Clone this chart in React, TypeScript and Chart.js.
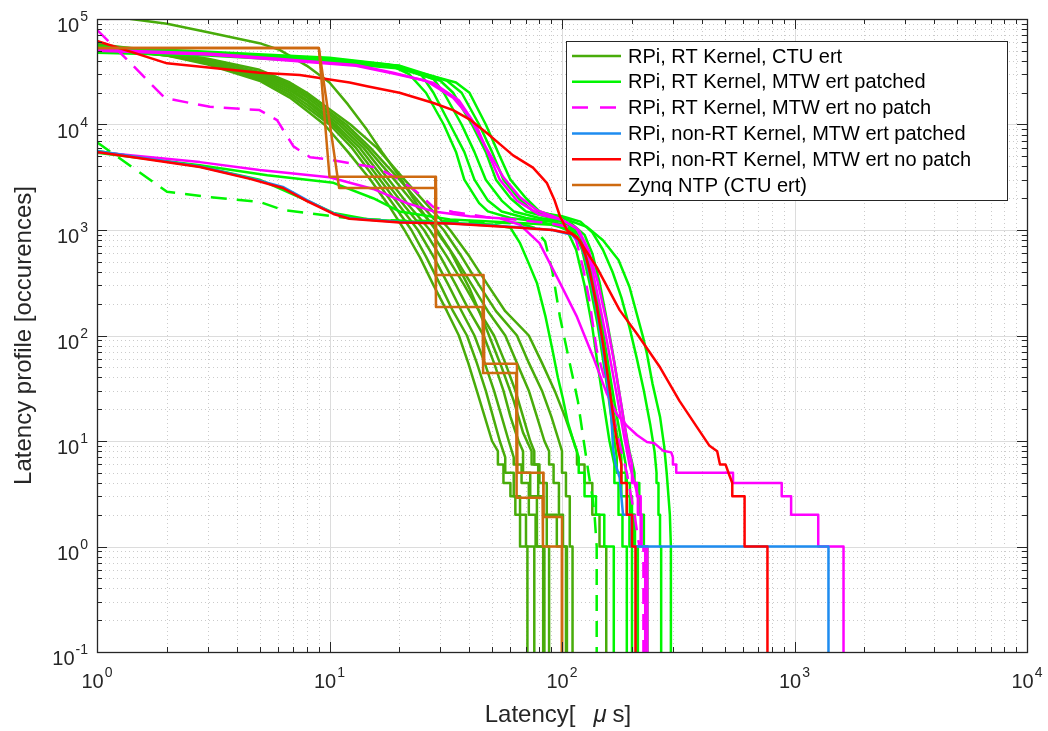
import React, { useEffect, useRef } from 'react';
import { Chart, registerables } from 'chart.js';

Chart.register(...registerables);

type Pt = [number, number];

// ---- axes ----
const xPowers = [0, 1, 2, 3, 4];
const yPowers = [-1, 0, 1, 2, 3, 4, 5];
const xTitleHead = 'Latency[';
const xTitleUnit = 'μ';
const xTitleTail = 's]';
const yTitle = 'Latency profile [occurences]';

// ---- legend ----
const legendLabels = [
  'RPi, RT Kernel, CTU ert',
  'RPi, RT Kernel, MTW ert patched',
  'RPi, RT Kernel, MTW ert no patch',
  'RPi, non-RT Kernel, MTW ert patched',
  'RPi, non-RT Kernel, MTW ert no patch',
  'Zynq NTP (CTU ert)',
];
const groupColors = ['rgb(72,172,10)', 'rgb(0,245,0)', 'rgb(255,0,255)', 'rgb(30,140,240)', 'rgb(255,0,0)', 'rgb(206,106,16)'];
const legendDashed = [false, false, true, false, false, false];

// ---- RPi, RT Kernel, CTU ert (dark green) ----
const ctuTop: Pt[] = [[1,1.15e5],[1.4,1e5],[2,9e4],[3,7.5e4],[5,5.9e4],[6.1,5.1e4],[8,3.6e4],[10,2.5e4],[12,1.55e4],[14.5,8900],[17,5300],[20,3200],[24,1700],[28,1070],[33,640],[40,280],[47,120],[55,50],[62,24],[68,12],[74,8],[74,6],[80,6],[80,4],[86,4],[86,2],[95,2],[95,1],[104,1],[104,0.01]];
const ctuA: Pt[] = [[1,5.4e4],[2,4.5e4],[3,3.7e4],[5,2.6e4],[6.75,1.8e4],[8,1.35e4],[9.5,1e4],[12,5500],[15,3000],[18,1700],[21,1000],[24.5,550],[28,300],[32,170],[36,100],[39.5,55],[43,30],[46.5,17],[50,10],[53,8],[53,6],[56,6],[56,4],[60,4],[60,3],[63,3],[63,2],[66,2],[66,1],[71,1],[71,0.01]];
const ctuB: Pt[] = [[1,5.6e4],[2,4.6e4],[3,3.8e4],[5,2.7e4],[6.75,1.9e4],[8,1.45e4],[10,1e4],[12.5,6000],[15.8,3000],[19,1700],[22.5,1000],[26,560],[30,300],[34,170],[39,100],[43,55],[47,30],[50.5,17],[54,10],[57,7],[57,5],[62,5],[62,3],[66,3],[66,2],[70,2],[70,1],[76,1],[76,0.01]];
const ctuC: Pt[] = [[1,5.5e4],[2,4.6e4],[3,3.9e4],[5,2.8e4],[6.75,2.0e4],[8,1.55e4],[10.3,1e4],[13,6000],[16.5,3000],[20,1700],[24,1000],[28,560],[32.5,300],[37,170],[42,100],[46.5,55],[51,30],[55,17],[59,10],[62,7],[62,6],[67,6],[67,4],[72,4],[72,2],[77,2],[77,1],[83,1],[83,0.01]];
const ctuD: Pt[] = [[1,5.3e4],[2,4.5e4],[3,3.9e4],[5,2.9e4],[6.75,2.1e4],[8,1.65e4],[10.6,1e4],[13.5,6000],[17.2,3000],[21,1700],[25.5,1000],[30,560],[35,300],[40,170],[46,100],[51,55],[56,30],[60,17],[65,10],[68,8],[68,5],[73,5],[73,3],[78,3],[78,1],[84,1],[84,0.01]];
const ctuE: Pt[] = [[1,5.8e4],[2,4.8e4],[3,4.1e4],[5,3.0e4],[6.75,2.2e4],[8,1.7e4],[11,1e4],[14,6000],[18,3000],[22,1700],[27,1000],[32,560],[38,300],[44,170],[51,100],[57,55],[63,30],[68,17],[73,10],[76,8],[76,6],[79,6],[79,3],[83,3],[83,2],[86,2],[86,1],[88,1],[88,0.01]];
const ctuF: Pt[] = [[1,5.5e4],[2,4.7e4],[3,4.1e4],[5,3.1e4],[6.75,2.3e4],[8,1.8e4],[11.4,1e4],[14.5,6000],[19,3000],[23.5,1700],[29,1000],[34.5,560],[41,300],[48,170],[57,100],[64,55],[72,30],[78,17],[84,10],[88,8],[88,6],[92,6],[92,4],[97,4],[97,2],[101,2],[101,1],[105,1],[105,0.01]];
const ctuG: Pt[] = [[1,5.2e4],[2,4.5e4],[3,4.0e4],[5,3.15e4],[6.75,2.4e4],[8,1.9e4],[11.8,1e4],[15,6000],[20,3000],[25,1700],[31,1000],[37,560],[44,300],[52,170],[64,100],[72,55],[82,30],[90,17],[97,10],[100,8],[100,5],[104,5],[104,3],[108,3],[108,1],[111,1],[111,0.01]];
const ctuH: Pt[] = [[1,5.6e4],[2,4.8e4],[3,4.2e4],[5,3.3e4],[6.75,2.5e4],[8,2.0e4],[12.3,1e4],[16,6000],[21,3000],[26.5,1700],[33,1000],[40,560],[48,300],[57,170],[72,100],[82,55],[93,30],[103,17],[112,10],[116,8],[116,6],[125,6],[125,4],[135,4],[135,2],[145,2],[145,1],[155,1],[155,0.01]];

// ---- RPi, RT Kernel, MTW ert patched (bright green) ----
const mtwPatchA: Pt[] = [[1,5.5e4],[3,4.9e4],[10,4.3e4],[18,3.7e4],[22,3.0e4],[26,2.0e4],[31,1e4],[35,5500],[38,3000],[44,1800],[48,1500],[60,1300],[80,1200],[95,1100],[105,1000],[115,650],[125,300],[135,120],[142,55],[150,25],[160,10],[168,6],[168,4],[175,4],[175,2],[182,2],[182,1],[190,1],[190,0.01]];
const mtwPatchB: Pt[] = [[1,5.3e4],[3,4.8e4],[10,4.2e4],[20,3.6e4],[25,2.9e4],[28,2.0e4],[33,1e4],[38,5500],[42,3000],[48,1900],[55,1500],[70,1300],[90,1200],[105,1100],[112,1000],[122,650],[132,300],[142,130],[150,60],[158,28],[166,12],[172,7],[172,5],[180,5],[180,3],[190,3],[190,2],[195,2],[195,1],[200,1],[200,0.01]];
const mtwPatchC: Pt[] = [[1,5.0e4],[3,4.6e4],[10,4.0e4],[20,3.5e4],[28,2.7e4],[31,2.0e4],[37,1e4],[42,5500],[47,3000],[55,1900],[62,1500],[80,1300],[100,1200],[112,1050],[120,850],[130,500],[140,250],[150,110],[160,45],[170,20],[180,10],[188,6],[188,4],[196,4],[196,2],[204,2],[204,1],[212,1],[212,0.01]];
const mtwPatchD: Pt[] = [[1,4.8e4],[3,4.5e4],[10,3.9e4],[20,3.4e4],[30,2.6e4],[34,2.0e4],[41,1e4],[47,5500],[52,3000],[60,2000],[70,1500],[90,1300],[110,1150],[125,900],[135,600],[145,320],[155,150],[165,70],[175,32],[185,15],[195,8],[205,5],[205,4],[215,4],[215,2],[225,2],[225,1],[233,1],[233,0.01]];
const mtwPatchE: Pt[] = [[1,5.2e4],[3,4.7e4],[10,4.1e4],[20,3.6e4],[32,2.6e4],[37,2.0e4],[44,1e4],[50,5500],[56,3000],[65,2000],[75,1500],[100,1350],[120,1200],[135,950],[150,650],[165,400],[180,230],[195,120],[210,60],[225,30],[240,14],[250,8],[255,5],[255,4],[260,4],[260,2],[264,2],[264,1],[267,1],[267,0.01]];
const mtwPatchF: Pt[] = [[1,4.9e4],[3,4.6e4],[10,4.0e4],[20,3.5e4],[35,2.5e4],[40,2.0e4],[47,1e4],[53,5500],[60,3000],[70,2000],[80,1500],[100,1300],[128,1070],[150,800],[175,520],[195,290],[223,97],[231,70],[245,35],[264,17],[275,9],[282,5],[287,3],[291,2],[294,1],[294,0.01]];
const mtwPatchLow: Pt[] = [[1,5.4e3],[2.77,4100],[5.4,3300],[10.4,2800],[15.4,2000],[20,1500],[33,1260],[60,1180],[90,1120],[110,1000],[122,700],[132,380],[142,170],[152,70],[162,28],[172,12],[180,7],[180,5],[190,5],[190,3],[200,3],[200,2],[206,2],[206,1],[210,1],[210,0.01]];
const mtwPatchEarly: Pt[] = [[1,5.6e3],[2.77,4000],[5,3000],[8,1900],[10.4,1450],[15,1250],[30,1170],[50,1130],[60,1050],[66,750],[72,480],[78,315],[85,150],[91,73],[96,40],[101,25],[106,15],[112,10],[118,7],[118,5],[125,5],[125,3],[140,3],[140,2],[152,2],[152,1],[167,1],[167,0.01]];
const mtwPatchDashed: Pt[] = [[1,6800],[2,2300],[3.06,2050],[5,1850],[6.3,1550],[8.25,1440],[12.2,1290],[20,1230],[40,1200],[66,1150],[76,1050],[80,900],[84.6,780],[91,400],[98,150],[107,60],[117,24],[124,10],[130,5],[135,3],[138,2],[141,1],[141,0.01]];

// ---- RPi, RT Kernel, MTW ert no patch (magenta) ----
const mtwNoPatchDashed: Pt[] = [[1,7.9e4],[1.35,4.1e4],[1.96,1.78e4],[3.06,1.47e4],[5,1.37e4],[5.95,1.1e4],[7,6200],[8.25,4900],[9.7,4700],[12.2,4300],[16,3900],[20,3000],[23.7,2300],[28,1650],[34,1480],[47,1330],[66,1240],[90,1150],[105,1080],[115,800],[123,445],[131,218],[141,73],[156,32],[172,12],[190,5],[205,2],[215,1],[224,1],[224,0.01]];
const mtwNoPatchA: Pt[] = [[1,5.1e4],[3,4.7e4],[6,4.2e4],[13,3.66e4],[18.8,3.1e4],[28,2.47e4],[36,1.7e4],[43,9500],[47.5,5700],[54,3000],[64,1900],[80,1400],[100,1250],[115,1050],[125,750],[135,420],[145,200],[155,95],[165,45],[175,22],[185,11],[195,6],[205,4],[212,3],[212,2],[220,2],[220,1],[228,1],[228,0.01]];
const mtwNoPatchB: Pt[] = [[1,5.0e4],[3,4.6e4],[6,4.1e4],[13,3.6e4],[18.8,3.05e4],[26,2.6e4],[34,1.8e4],[40,1.18e4],[47,6100],[56,3160],[66,2040],[78,1540],[100,1250],[118,1000],[130,650],[142,330],[155,140],[168,55],[180,22],[192,9],[200,6],[200,4],[210,4],[210,3],[218,3],[218,1],[233,1],[233,0.01]];
const mtwNoPatchTail: Pt[] = [[1,5.5e3],[2.77,4400],[5,3700],[10,3160],[15.4,2450],[21.5,1800],[28,1500],[40,1350],[54,1290],[66,1120],[80,750],[98,315],[116,150],[136,63],[156,28],[172,18],[190,14],[210,11.4],[232,9.8],[250,9.5],[272,8.1],[295,7.8],[300,7],[300,6],[310,6],[310,5],[544,5],[544,4],[881,4],[881,3],[967,3],[967,2],[1265,2],[1265,1],[1625,1],[1625,0.01]];

// ---- RPi, non-RT Kernel, MTW ert patched (blue) ----
const nonRtPatched: Pt[] = [[1,5.6e3],[2.77,4000],[4.55,3100],[6.3,2560],[8,1920],[10.4,1440],[12.2,1290],[20,1190],[33,1160],[66,1060],[91,1000],[110,900],[119,780],[126,550],[131,390],[141,174],[150,73],[160,24.6],[163,17],[166,8.3],[170,6],[177,4.5],[183,2],[199,2],[199,1],[1400,1],[1400,0.01]];

// ---- RPi, non-RT Kernel, MTW ert no patch (red) ----
const nonRtNoPatchHigh: Pt[] = [[1,6.2e4],[2,3.8e4],[5,3.1e4],[7.45,2.95e4],[12.2,2.5e4],[14.5,2.3e4],[20,2.0e4],[28,1.6e4],[34,1.37e4],[40,1.12e4],[47.5,8300],[55,6300],[61.6,5100],[75,3900],[86,2800],[93,1900],[98,1350],[105,1000],[116,860],[141,445],[177,174],[210,104],[264,50],[320,24],[380,13.6],[431,9],[465,8],[478,6],[505,6],[520,5],[540,4],[540,3],[610,3],[610,1],[765,1],[765,0.01]];
const nonRtNoPatchLow: Pt[] = [[1,5.5e3],[2.77,3950],[4.55,3050],[6.3,2500],[8,1880],[10.4,1420],[12.2,1280],[20,1180],[33,1150],[66,1050],[91,1000],[110,920],[119,800],[126,580],[131,420],[141,190],[150,85],[160,32],[168,14],[175,8],[180,6],[180,4],[190,4],[190,2],[200,2],[200,1],[207,1],[207,0.01]];

// ---- Zynq NTP (CTU ert) (orange) ----
const zynqA: Pt[] = [[1,5.3e4],[9,5.3e4],[10,3200],[28.5,3200],[28.7,374],[46,374],[46.3,54],[64,54],[64.3,5],[83,5],[83.3,1.9],[100,1.9],[100,0.01]];
const zynqB: Pt[] = [[1,5.3e4],[9,5.3e4],[11,2500],[28.5,2500],[28.7,186],[45.5,186],[45.8,44],[63.5,44],[63.8,2.9],[82.5,2.9],[82.8,1],[100,1],[100,0.01]];

const groupRuns: Pt[][][] = [
  [ctuTop, ctuA, ctuB, ctuC, ctuD, ctuE, ctuF, ctuG, ctuH],
  [mtwPatchA, mtwPatchB, mtwPatchC, mtwPatchD, mtwPatchE, mtwPatchF, mtwPatchLow, mtwPatchEarly, mtwPatchDashed],
  [mtwNoPatchDashed, mtwNoPatchA, mtwNoPatchB, mtwNoPatchTail],
  [nonRtPatched],
  [nonRtNoPatchHigh, nonRtNoPatchLow],
  [zynqA, zynqB],
];
const dashedRuns = [mtwPatchDashed, mtwNoPatchDashed];

const FONT = '"Liberation Sans", Arial, Helvetica, sans-serif';
const AXIS = '#262626';
const DASH = [16, 10];
const LINE_W = 2.5;

function drawPower(ctx: CanvasRenderingContext2D, exp: string, x: number, base: number, align: 'center' | 'right') {
  ctx.font = `20px ${FONT}`;
  const wb = ctx.measureText('10').width;
  ctx.font = `14px ${FONT}`;
  const we = ctx.measureText(exp).width;
  const gap = 1;
  const total = wb + gap + we;
  const left = align === 'center' ? x - total / 2 : x - total;
  ctx.textAlign = 'left';
  ctx.textBaseline = 'alphabetic';
  ctx.font = `20px ${FONT}`;
  ctx.fillText('10', left, base);
  ctx.font = `14px ${FONT}`;
  ctx.fillText(exp, left + wb + gap, base - 11);
}

const matlabPlugin = {
  id: 'matlabFrame',
  beforeDatasetsDraw(chart: any) {
    const { ctx, chartArea: a } = chart;
    const xs = chart.scales.x;
    const ys = chart.scales.y;
    ctx.save();
    ctx.lineWidth = 1;
    // minor grid (dotted)
    ctx.strokeStyle = 'rgba(38,38,38,0.24)';
    ctx.setLineDash([1, 3]);
    for (let i = 0; i < xPowers.length - 1; i++) {
      for (let m = 2; m <= 9; m++) {
        const px = Math.round(xs.getPixelForValue(m * Math.pow(10, xPowers[i]))) + 0.5;
        ctx.beginPath(); ctx.moveTo(px, a.top); ctx.lineTo(px, a.bottom); ctx.stroke();
      }
    }
    for (let i = 0; i < yPowers.length - 1; i++) {
      for (let m = 2; m <= 9; m++) {
        const py = Math.round(ys.getPixelForValue(m * Math.pow(10, yPowers[i]))) + 0.5;
        ctx.beginPath(); ctx.moveTo(a.left, py); ctx.lineTo(a.right, py); ctx.stroke();
      }
    }
    // major grid
    ctx.setLineDash([]);
    ctx.strokeStyle = '#dcdcdc';
    xPowers.forEach((p) => {
      const px = Math.round(xs.getPixelForValue(Math.pow(10, p))) + 0.5;
      ctx.beginPath(); ctx.moveTo(px, a.top); ctx.lineTo(px, a.bottom); ctx.stroke();
    });
    yPowers.forEach((p) => {
      const py = Math.round(ys.getPixelForValue(Math.pow(10, p))) + 0.5;
      ctx.beginPath(); ctx.moveTo(a.left, py); ctx.lineTo(a.right, py); ctx.stroke();
    });
    ctx.restore();
  },
  afterDatasetsDraw(chart: any) {
    const { ctx, chartArea: a } = chart;
    const xs = chart.scales.x;
    const ys = chart.scales.y;
    ctx.save();
    ctx.strokeStyle = AXIS;
    ctx.fillStyle = AXIS;
    ctx.lineWidth = 1;
    ctx.setLineDash([]);
    const majorLen = 10;
    const minorLen = 5;
    for (let i = 0; i < xPowers.length; i++) {
      for (let m = 1; m <= 9; m++) {
        if (i === xPowers.length - 1 && m > 1) break;
        const px = Math.round(xs.getPixelForValue(m * Math.pow(10, xPowers[i]))) + 0.5;
        const len = m === 1 ? majorLen : minorLen;
        ctx.beginPath();
        ctx.moveTo(px, a.bottom); ctx.lineTo(px, a.bottom - len);
        ctx.moveTo(px, a.top); ctx.lineTo(px, a.top + len);
        ctx.stroke();
      }
    }
    for (let i = 0; i < yPowers.length; i++) {
      for (let m = 1; m <= 9; m++) {
        if (i === yPowers.length - 1 && m > 1) break;
        const py = Math.round(ys.getPixelForValue(m * Math.pow(10, yPowers[i]))) + 0.5;
        const len = m === 1 ? majorLen : minorLen;
        ctx.beginPath();
        ctx.moveTo(a.left, py); ctx.lineTo(a.left + len, py);
        ctx.moveTo(a.right, py); ctx.lineTo(a.right - len, py);
        ctx.stroke();
      }
    }
    ctx.lineWidth = 1.3;
    ctx.strokeRect(a.left + 0.5, a.top + 0.5, a.right - a.left, a.bottom - a.top);

    xPowers.forEach((p) => {
      drawPower(ctx, String(p), xs.getPixelForValue(Math.pow(10, p)), a.bottom + 36, 'center');
    });
    yPowers.forEach((p) => {
      drawPower(ctx, String(p), a.left - 9, ys.getPixelForValue(Math.pow(10, p)) + 13, 'right');
    });

    ctx.textBaseline = 'alphabetic';
    ctx.textAlign = 'left';
    ctx.font = `24px ${FONT}`;
    const w1 = ctx.measureText(xTitleHead).width;
    ctx.font = `italic 24px ${FONT}`;
    const w2 = ctx.measureText(xTitleUnit).width;
    ctx.font = `24px ${FONT}`;
    const w3 = ctx.measureText(xTitleTail).width;
    const gap1 = 18;
    const gap2 = 6;
    const total = w1 + gap1 + w2 + gap2 + w3;
    let tx = (a.left + a.right) / 2 - 4 - total / 2;
    const tBase = a.bottom + 70;
    ctx.fillText(xTitleHead, tx, tBase);
    tx += w1 + gap1;
    ctx.font = `italic 24px ${FONT}`;
    ctx.fillText(xTitleUnit, tx, tBase);
    tx += w2 + gap2;
    ctx.font = `24px ${FONT}`;
    ctx.fillText(xTitleTail, tx, tBase);

    ctx.save();
    ctx.translate(31, (a.top + a.bottom) / 2);
    ctx.rotate(-Math.PI / 2);
    ctx.textAlign = 'center';
    ctx.font = `24px ${FONT}`;
    ctx.fillText(yTitle, 0, 0);
    ctx.restore();

    const lx = 566, ly = 41, lw = 441, lh = 159;
    ctx.fillStyle = '#ffffff';
    ctx.fillRect(lx, ly, lw, lh);
    ctx.strokeStyle = AXIS;
    ctx.lineWidth = 1;
    ctx.strokeRect(lx + 0.5, ly + 0.5, lw, lh);
    legendLabels.forEach((label, i) => {
      const cy = 56 + i * 25.8;
      ctx.strokeStyle = groupColors[i];
      ctx.lineWidth = LINE_W;
      ctx.setLineDash(legendDashed[i] ? [16, 12] : []);
      ctx.beginPath(); ctx.moveTo(572, cy); ctx.lineTo(621, cy); ctx.stroke();
      ctx.setLineDash([]);
      ctx.fillStyle = '#000000';
      ctx.font = `20px ${FONT}`;
      ctx.textAlign = 'left';
      ctx.textBaseline = 'middle';
      ctx.fillText(label, 628, cy + 1);
    });
    ctx.restore();
  },
};

export default function App() {
  const ref = useRef<HTMLCanvasElement>(null);
  useEffect(() => {
    const canvas = ref.current;
    if (!canvas) return;
    const datasets: any[] = [];
    groupRuns.forEach((runs, gi) => {
      runs.forEach((run, ri) => {
        datasets.push({
          label: `${legendLabels[gi]} ${ri + 1}`,
          data: run.map(([x, y]) => ({ x, y })),
          borderColor: groupColors[gi],
          backgroundColor: groupColors[gi],
          borderWidth: LINE_W,
          borderDash: dashedRuns.includes(run) ? DASH : [],
          borderJoinStyle: 'round',
          pointRadius: 0,
          tension: 0,
          fill: false,
          clip: 0,
        });
      });
    });
    datasets.reverse();
    const chart = new Chart(canvas, {
      type: 'line',
      data: { datasets },
      options: {
        animation: false,
        responsive: true,
        maintainAspectRatio: false,
        events: [],
        layout: { padding: { left: 97, top: 19, right: 21, bottom: 79 } },
        scales: {
          x: { type: 'logarithmic', min: 1, max: 10000, display: false },
          y: { type: 'logarithmic', min: 0.1, max: 100000, display: false },
        },
        plugins: { legend: { display: false }, tooltip: { enabled: false } },
      },
      plugins: [matlabPlugin],
    } as any);
    return () => chart.destroy();
  }, []);
  return (
    <div style={{ position: 'fixed', left: 0, top: 0, width: 1048, height: 731, background: '#ffffff' }}>
      <canvas ref={ref} />
    </div>
  );
}
